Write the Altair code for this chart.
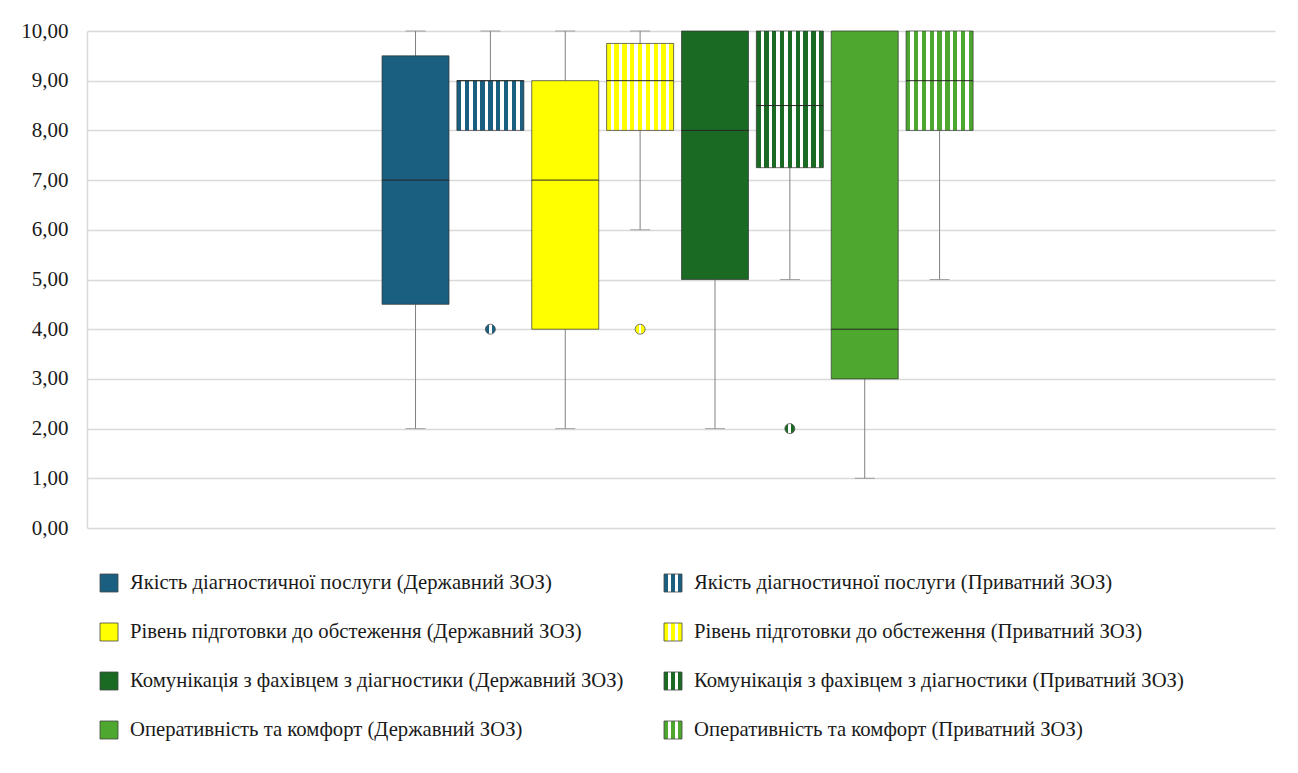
import altair as alt
import pandas as pd

categories = [
    "Якість діагностичної послуги (Державний ЗОЗ)",
    "Якість діагностичної послуги (Приватний ЗОЗ)",
    "Рівень підготовки до обстеження (Державний ЗОЗ)",
    "Рівень підготовки до обстеження (Приватний ЗОЗ)",
    "Комунікація з фахівцем з діагностики (Державний ЗОЗ)",
    "Комунікація з фахівцем з діагностики (Приватний ЗОЗ)",
    "Оперативність та комфорт (Державний ЗОЗ)",
    "Оперативність та комфорт (Приватний ЗОЗ)",
]
mins = [2, 8, 2, 6, 2, 5, 1, 5]
q1s = [4.5, 8, 4, 8, 5, 7.25, 3, 8]
medians = [7, 9, 7, 9, 8, 8.5, 4, 9]
q3s = [9.5, 9, 9, 9.75, 10, 10, 10, 10]
maxs = [10, 10, 10, 10, 10, 10, 10, 10]
private = [False, True, False, True, False, True, False, True]
colors = ["#1a5f80", "#1a5f80", "#ffff00", "#ffff00",
          "#1a6a24", "#1a6a24", "#4ea72e", "#4ea72e"]
outlier_idx = [1, 3, 5]
outlier_val = [4, 4, 2]
legend_col = [0, 1, 0, 1, 0, 1, 0, 1]
legend_row = [0, 0, 1, 1, 2, 2, 3, 3]

df = pd.DataFrame({
    "i": list(range(len(categories))),
    "cat": categories, "min": mins, "q1": q1s, "med": medians,
    "q3": q3s, "max": maxs, "priv": private,
    "lcol": legend_col, "lrow": legend_row,
})
out_df = pd.DataFrame({
    "i": outlier_idx,
    "cat": [categories[k] for k in outlier_idx],
    "val": outlier_val,
})

FONT = "'Liberation Serif', 'DejaVu Serif', serif"
HALF = 0.4475  # half box width in category steps


def stripes(color, n, cw=0.55, ww=0.45):
    total = n * cw + (n - 1) * ww
    stops = []
    pos = 0.0
    for k in range(n):
        a = pos / total
        pos += cw
        b = pos / total
        stops += [(a, color), (b, color)]
        if k < n - 1:
            a2 = b
            pos += ww
            b2 = pos / total
            stops += [(a2, "#ffffff"), (b2, "#ffffff")]
    return alt.LinearGradient(
        gradient="linear",
        stops=[alt.GradientStop(offset=min(o, 1.0), color=c) for o, c in stops],
        x1=0, x2=1, y1=0, y2=0,
    )


xscale = alt.Scale(domain=[-4.388, 11.48], nice=False, zero=False)
xenc = alt.X("i:Q", scale=xscale, axis=None)
yscale = alt.Scale(domain=[0, 10])
yaxis = alt.Axis(values=list(range(11)),
                 labelExpr="replace(format(datum.value, '.2f'), '.', ',')",
                 grid=True, ticks=False, domainColor="#d9d9d9", domainWidth=1.5,
                 gridColor="#d9d9d9", gridWidth=1.5,
                 labelFont=FONT, labelFontSize=21, labelColor="#1a1a1a",
                 labelPadding=19, title=None)

base = alt.Chart(df).transform_calculate(
    x0=f"datum.i - {HALF}", x1=f"datum.i + {HALF}")
bx0 = alt.X("x0:Q", scale=xscale, axis=None)

whisk_lo = base.mark_rule(color="#808080", strokeWidth=1).encode(
    x=xenc, y=alt.Y("min:Q", scale=yscale, axis=yaxis), y2="q1:Q")
whisk_hi = base.mark_rule(color="#808080", strokeWidth=1).encode(
    x=xenc, y=alt.Y("q3:Q", scale=yscale), y2="max:Q")
cap_lo = base.transform_filter("datum.min < datum.q1").mark_tick(
    color="#808080", size=20, thickness=1, orient="horizontal").encode(
    x=xenc, y=alt.Y("min:Q", scale=yscale))
cap_hi = base.transform_filter("datum.max > datum.q3").mark_tick(
    color="#808080", size=20, thickness=1, orient="horizontal").encode(
    x=xenc, y=alt.Y("max:Q", scale=yscale))

gov_boxes = base.transform_filter("!datum.priv").mark_rect(
    stroke="#333333", strokeWidth=1, strokeOpacity=0.7).encode(
    x=bx0, x2="x1:Q", y=alt.Y("q1:Q", scale=yscale), y2="q3:Q",
    color=alt.Color("cat:N", scale=alt.Scale(domain=categories, range=colors), legend=None))

priv_boxes = []
for k in range(len(categories)):
    if private[k]:
        priv_boxes.append(
            base.transform_filter(f"datum.i == {k}").mark_rect(
                fill=stripes(colors[k], 9), stroke="#333333", strokeWidth=1,
                strokeOpacity=0.7).encode(
                x=bx0, x2="x1:Q", y=alt.Y("q1:Q", scale=yscale), y2="q3:Q"))

med_lines = base.mark_rule(color="#262626", strokeWidth=1).encode(
    x=bx0, x2="x1:Q", y=alt.Y("med:Q", scale=yscale))

out_layers = []
for k in outlier_idx:
    out_layers.append(
        alt.Chart(out_df).transform_filter(f"datum.i == {k}").mark_point(
            shape="circle", filled=True, fill=stripes(colors[k], 2, 0.4, 0.3),
            stroke="#555555", strokeWidth=0.8, size=100, opacity=1).encode(
            x=xenc, y=alt.Y("val:Q", scale=yscale)))

plot = alt.layer(whisk_lo, whisk_hi, cap_lo, cap_hi, gov_boxes, *priv_boxes,
                 med_lines, *out_layers).properties(width=1188, height=497)

# legend
lx = alt.X("lcol:Q", scale=alt.Scale(domain=[0, 1], range=[22, 586]), axis=None)
ly = alt.Y("lrow:Q", scale=alt.Scale(domain=[0, 3], range=[45, 192]), axis=None)
lbase = alt.Chart(df)
leg_gov = lbase.transform_filter("!datum.priv").mark_square(
    size=324, opacity=1, stroke="#444444", strokeWidth=0.8).encode(
    x=lx, y=ly,
    color=alt.Color("cat:N", scale=alt.Scale(domain=categories, range=colors), legend=None))
leg_priv = []
for k in range(len(categories)):
    if private[k]:
        leg_priv.append(
            lbase.transform_filter(f"datum.i == {k}").mark_square(
                size=324, opacity=1, fill=stripes(colors[k], 3, 0.3, 0.25),
                stroke="#444444", strokeWidth=0.8).encode(x=lx, y=ly))
leg_text = lbase.mark_text(align="left", baseline="middle", dx=21,
                           font=FONT, fontSize=20.7, color="#1a1a1a").encode(
    x=lx, y=ly, text="cat:N")
legend = alt.layer(leg_gov, *leg_priv, leg_text).properties(width=1188, height=205)

chart = alt.vconcat(plot, legend, spacing=0).properties(
    padding={"left": 12, "top": 12, "right": 5, "bottom": 5},
    background="white",
).configure_view(strokeWidth=0)

chart.save("out.html", embed_options={"renderer": "svg", "actions": False})
